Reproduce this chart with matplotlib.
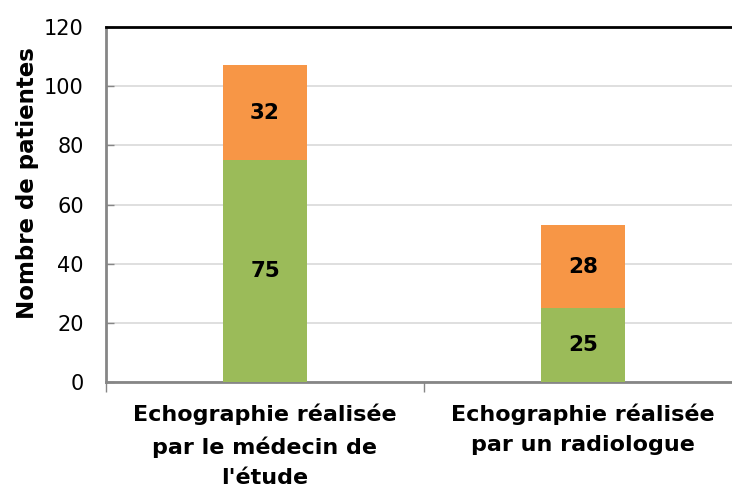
import matplotlib
matplotlib.use('Agg')
import matplotlib.pyplot as plt

# data
categories = ["Echographie réalisée\npar le médecin de\nl'étude",
              "Echographie réalisée\npar un radiologue"]
lower = [75, 25]
upper = [32, 28]
yticks = [0, 20, 40, 60, 80, 100, 120]

green = '#9BBB59'
orange = '#F79646'
axis_grey = '#868686'

plt.rcParams['font.family'] = ['DejaVu Sans']

fig = plt.figure(figsize=(7.32, 4.88), dpi=100)
ax = fig.add_axes([106 / 732, 1 - 382 / 488, 636 / 732, 355 / 488])

x = list(range(len(categories)))
w = 0.267
ax.bar(x, lower, width=w, color=green, zorder=3)
ax.bar(x, upper, width=w, bottom=lower, color=orange, zorder=3)

for i in x:
    ax.text(i, lower[i] / 2, str(lower[i]), ha='center', va='center',
            fontsize=15.5, fontweight='bold', zorder=4)
    ax.text(i, lower[i] + upper[i] / 2, str(upper[i]), ha='center', va='center',
            fontsize=15.5, fontweight='bold', zorder=4)

ax.set_xlim(-0.5, 1.5)
ax.set_ylim(0, 120)
ax.set_yticks(yticks)
ax.tick_params(axis='y', direction='in', length=6, width=1, color=axis_grey,
               labelsize=15, pad=16)
ax.set_xticks([-0.5, 0.5, 1.5])
ax.set_xticklabels([])
ax.tick_params(axis='x', direction='out', length=7, width=1, color=axis_grey)

ax.grid(axis='y', color='#D9D9D9', linewidth=1.2, zorder=0)

ax.spines['right'].set_visible(False)
ax.spines['top'].set_color('black')
ax.spines['top'].set_linewidth(2)
for s in ['left', 'bottom']:
    ax.spines[s].set_color(axis_grey)
    ax.spines[s].set_linewidth(2)

for i, lab in enumerate(categories):
    ax.text(i, -7.3, lab, ha='center', va='top', fontsize=16,
            fontweight='bold', linespacing=1.63)

fig.text(28 / 732, 1 - 183 / 488, 'Nombre de patientes', rotation=90,
         ha='center', va='center', fontsize=16.5, fontweight='bold')

fig.savefig('out.png', dpi=100)
